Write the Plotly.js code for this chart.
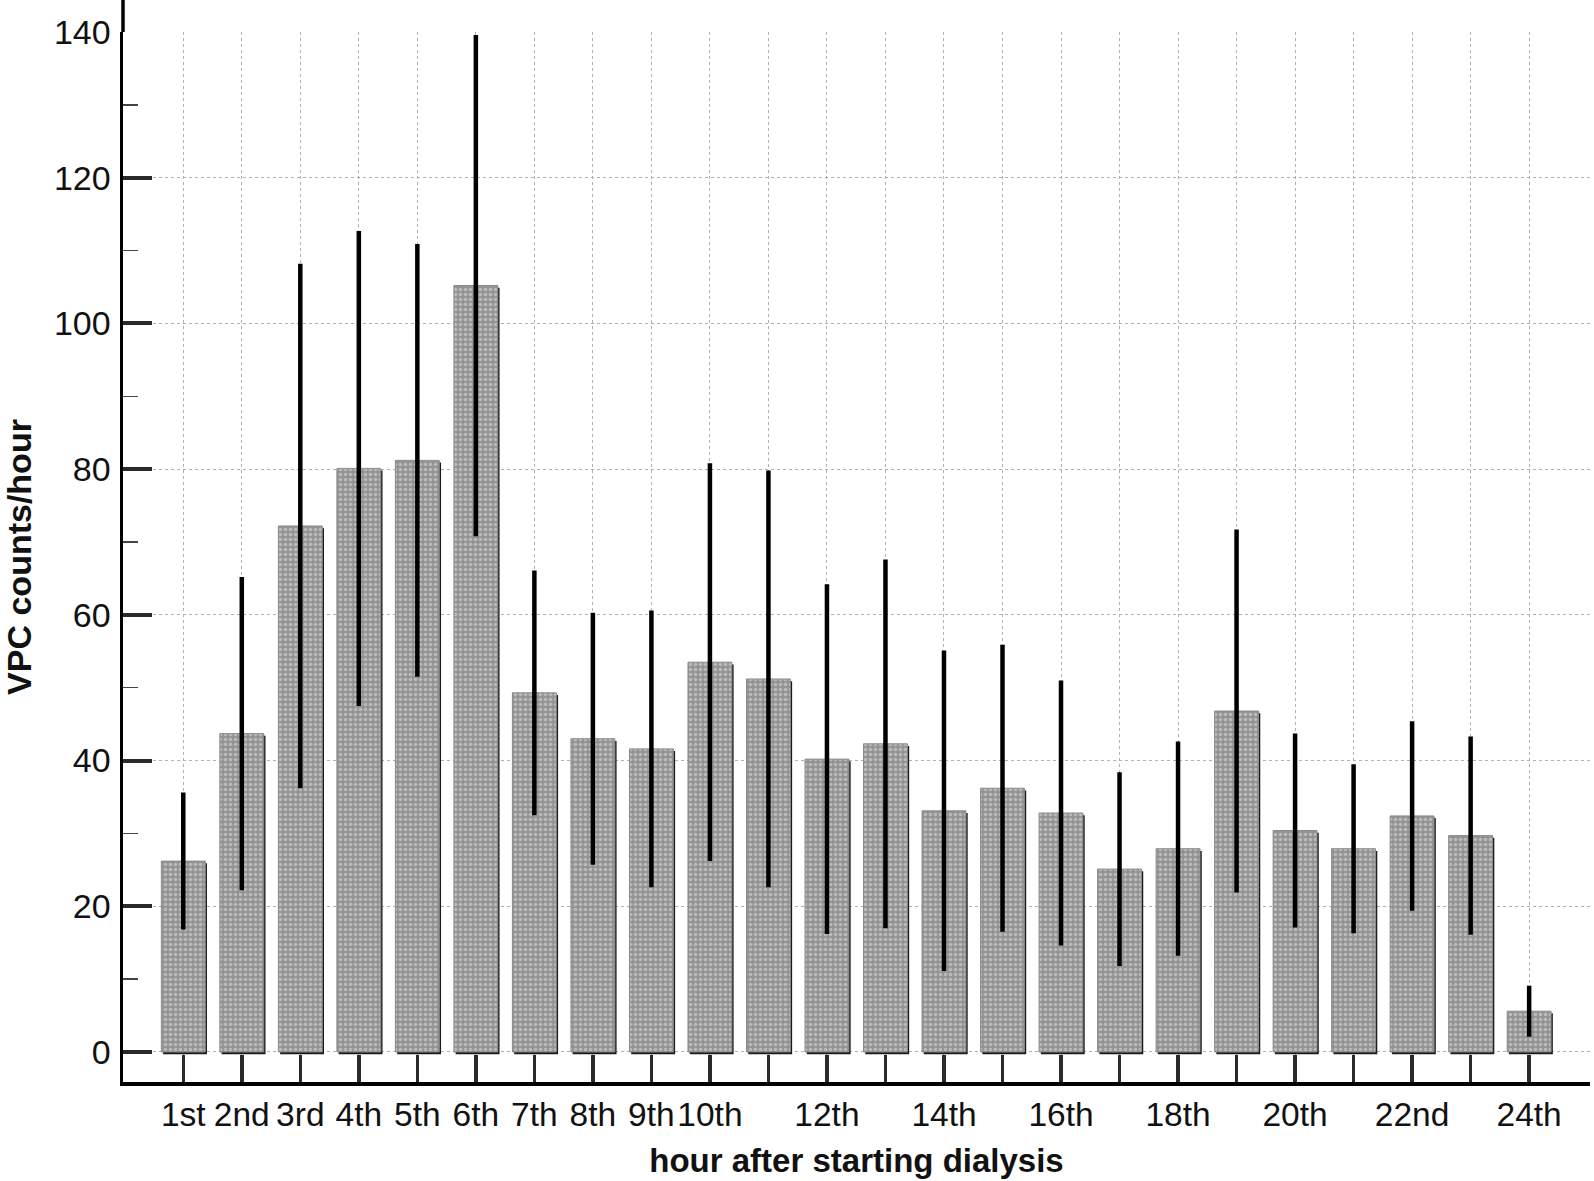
<!DOCTYPE html>
<html>
<head>
<meta charset="utf-8">
<script src="https://cdn.plot.ly/plotly-3.0.1.min.js"></script>
<style>html,body{margin:0;padding:0;background:#fff;}</style>
</head>
<body>
<div id="chart" style="width:1594px;height:1181px;"></div>
<script>
// Categories (hour after starting dialysis)
var hours = ['1st','2nd','3rd','4th','5th','6th','7th','8th','9th','10th','11th','12th',
             '13th','14th','15th','16th','17th','18th','19th','20th','21st','22nd','23rd','24th'];
// Tick labels shown on the x axis (odd hours after 10th are unlabeled)
var tickLabels = ['1st','2nd','3rd','4th','5th','6th','7th','8th','9th','10th','','12th',
                  '','14th','','16th','','18th','','20th','','22nd','','24th'];
// Mean VPC counts/hour
var meanVPC = [26.2, 43.7, 72.2, 80.1, 81.2, 105.2, 49.3, 43.0, 41.6, 53.5, 51.2, 40.2,
               42.3, 33.1, 36.2, 32.8, 25.1, 27.9, 46.8, 30.4, 27.9, 32.4, 29.7, 5.6];
// Standard deviation (error bars)
var sdVPC = [9.4, 21.5, 36.0, 32.6, 29.7, 34.4, 16.8, 17.3, 19.0, 27.3, 28.6, 24.0,
             25.3, 22.0, 19.7, 18.2, 13.3, 14.7, 24.9, 13.3, 11.6, 13.0, 13.6, 3.5];
// Y tick values
var yTicks = [0, 20, 40, 60, 80, 100, 120, 140];

var BAR_W = 0.75;
var font = "'Liberation Sans', Arial, sans-serif";

var shadow = {
  type: 'bar', x: hours, y: meanVPC,
  base: meanVPC.map(function(){ return -0.3; }),
  width: BAR_W, offset: -BAR_W/2 + 0.03,
  marker: {color: '#1a1a1a', line: {width: 0}},
  hoverinfo: 'skip', showlegend: false
};

var bars = {
  type: 'bar', x: hours, y: meanVPC,
  width: BAR_W, offset: -BAR_W/2,
  marker: {
    color: '#959595',
    line: {width: 1, color: '#8a8a8a'},
    pattern: {shape: '.', size: 5, solidity: 0.4, fillmode: 'overlay', fgcolor: '#e2e2e2', bgcolor: '#939393'}
  },
  error_y: {type: 'data', array: sdVPC, visible: true, thickness: 4.5, width: 0, color: '#000'},
  showlegend: false
};

var layout = {
  width: 1594, height: 1181,
  margin: {l: 123, r: 4, t: 32, b: 99},
  paper_bgcolor: '#fff', plot_bgcolor: '#fff',
  barmode: 'overlay',
  font: {family: font, color: '#000'},
  xaxis: {
    type: 'category',
    range: [-1.03, 24.04],
    tickmode: 'array', tickvals: hours, ticktext: tickLabels,
    ticks: 'inside', ticklen: 27, tickwidth: 3.5, tickcolor: '#2a2a2a',
    tickfont: {size: 33.5, family: font, color: '#111'},
    ticklabelstandoff: 0,
    showline: true, linewidth: 3.5, linecolor: '#000',
    showgrid: true, gridcolor: '#b0b0b0', gridwidth: 1, griddash: 'dot',
    zeroline: false,
    title: {text: '<b>hour after starting dialysis</b>', font: {size: 33, family: font, color: '#111'}, standoff: 18}
  },
  yaxis: {
    range: [-4.12, 140],
    tickmode: 'array', tickvals: yTicks,
    ticks: 'inside', ticklen: 29, tickwidth: 4, tickcolor: '#2a2a2a',
    tickfont: {size: 34, family: font, color: '#111'},
    ticklabelstandoff: 2,
    minor: {dtick: 10, tick0: 0, ticks: 'inside', ticklen: 15, tickwidth: 1.5, tickcolor: '#444', showgrid: false},
    showline: true, linewidth: 3.5, linecolor: '#000',
    showgrid: true, gridcolor: '#b0b0b0', gridwidth: 1, griddash: 'dot',
    zeroline: false,
    title: {text: '<b>VPC counts/hour</b>', font: {size: 34, family: font, color: '#111'}, standoff: 14}
  },
  shapes: [{
    type: 'line', xref: 'paper', yref: 'paper', x0: 0, x1: 0, y0: 1, y1: 1.032,
    line: {color: '#000', width: 3.5}
  }]
};

Plotly.newPlot('chart', [shadow, bars], layout, {displayModeBar: false, staticPlot: true});
</script>
</body>
</html>
